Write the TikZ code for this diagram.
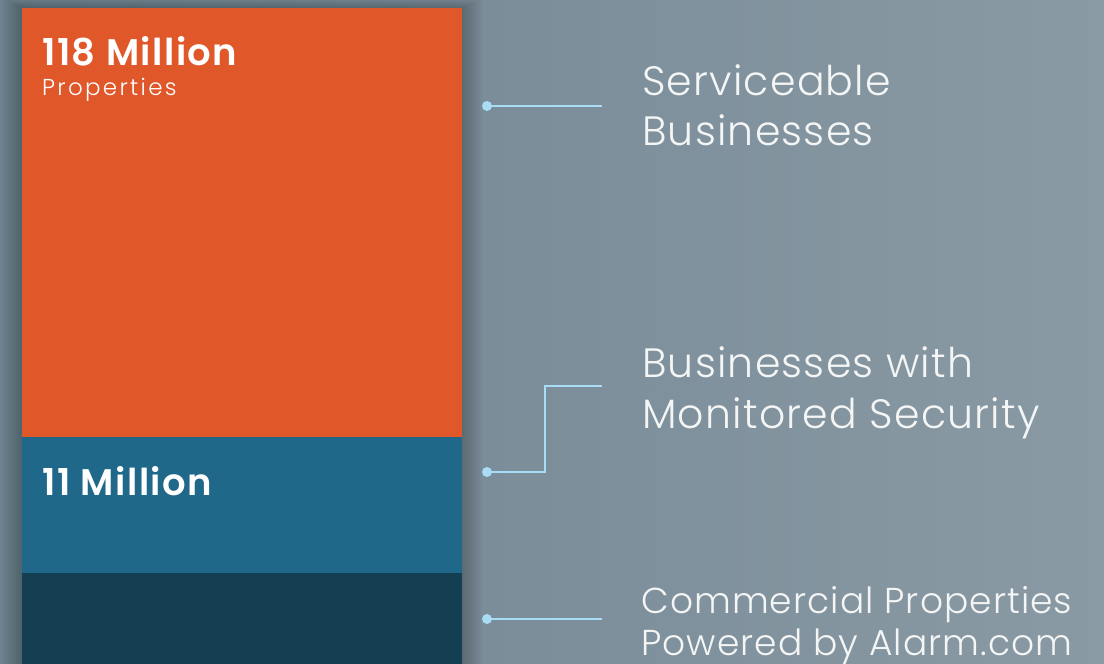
\documentclass[tikz,border=0pt]{standalone}
\usepackage{fontspec}
\setmainfont{Poppins}[UprightFont=* Light, BoldFont=* SemiBold]
\definecolor{bgL}{HTML}{6E8391}
\definecolor{bgR}{HTML}{8A9AA4}
\definecolor{barO}{HTML}{E0572A}
\definecolor{barB}{HTML}{1F6889}
\definecolor{barD}{HTML}{143F52}
\definecolor{conn}{HTML}{A9DDF5}
\definecolor{txt}{HTML}{F4F5F5}
\tikzset{
  bar/.style={draw=none, inner sep=0, anchor=north west, minimum width=440pt},
  connline/.style={draw=conn, line width=2.4pt},
  dot/.style={fill=conn},
  lbl/.style={anchor=base west, inner sep=0, text=txt, font=\fontsize{41}{41}\selectfont\addfontfeatures{LetterSpace=3}},
  lbls/.style={anchor=base west, inner sep=0, text=txt, font=\fontsize{36}{36}\selectfont\addfontfeatures{LetterSpace=3}},
  big/.style={anchor=base west, inner sep=0, text=white, font=\bfseries\fontsize{37}{37}\selectfont\addfontfeatures{LetterSpace=4}},
  sub/.style={anchor=base west, inner sep=0, text=white, font=\fontsize{23}{23}\selectfont\addfontfeatures{LetterSpace=10}},
}
\begin{document}
\begin{tikzpicture}[x=1pt,y=-1pt]
\useasboundingbox (0,0) rectangle (1104,664);
\shade[left color=bgL, right color=bgR] (0,0) rectangle (1104,664);
% soft shadow round the bars
\foreach \d in {2,4,...,20}{
  \fill[black, opacity=0.025] (22-\d,8-\d*0.5) rectangle (462+\d,664);
}
\node[bar, fill=barO, minimum height=429pt] (b1) at (22,8) {};
\node[bar, fill=barB, minimum height=136pt] (b2) at (22,437) {};
\node[bar, fill=barD, minimum height=91pt] (b3) at (22,573) {};
% bar labels
\node[big] (t1) at (42,65) {118 Million};
\node[sub] (t1s) at (42,95) {Properties};
\node[big] (t2) at (42,495) {11 Million};
% connectors
\coordinate (d1) at (487,106);
\coordinate (e1) at (602,106);
\draw[connline] (d1) -- (e1);
\fill[dot] (d1) circle (5);
\coordinate (d2) at (487,472);
\coordinate (k2) at (545,472);
\coordinate (k3) at (545,386);
\coordinate (e2) at (602,386);
\draw[connline, line join=miter] (d2) -- (k2) -- (k3) -- (e2);
\fill[dot] (d2) circle (5);
\coordinate (d3) at (487,619);
\coordinate (e3) at (602,619);
\draw[connline] (d3) -- (e3);
\fill[dot] (d3) circle (5);
% right labels
\node[lbl] (r1a) at (642,95) {Serviceable};
\node[lbl] (r1b) at (642,145) {Businesses};
\node[lbl] (r2a) at (642,377) {Businesses with};
\node[lbl] (r2b) at (642,428) {Monitored Security};
\node[lbls] (r3a) at (641,613) {Commercial Properties};
\node[lbls] (r3b) at (641,655) {Powered by Alarm.com};
\end{tikzpicture}
\end{document}
